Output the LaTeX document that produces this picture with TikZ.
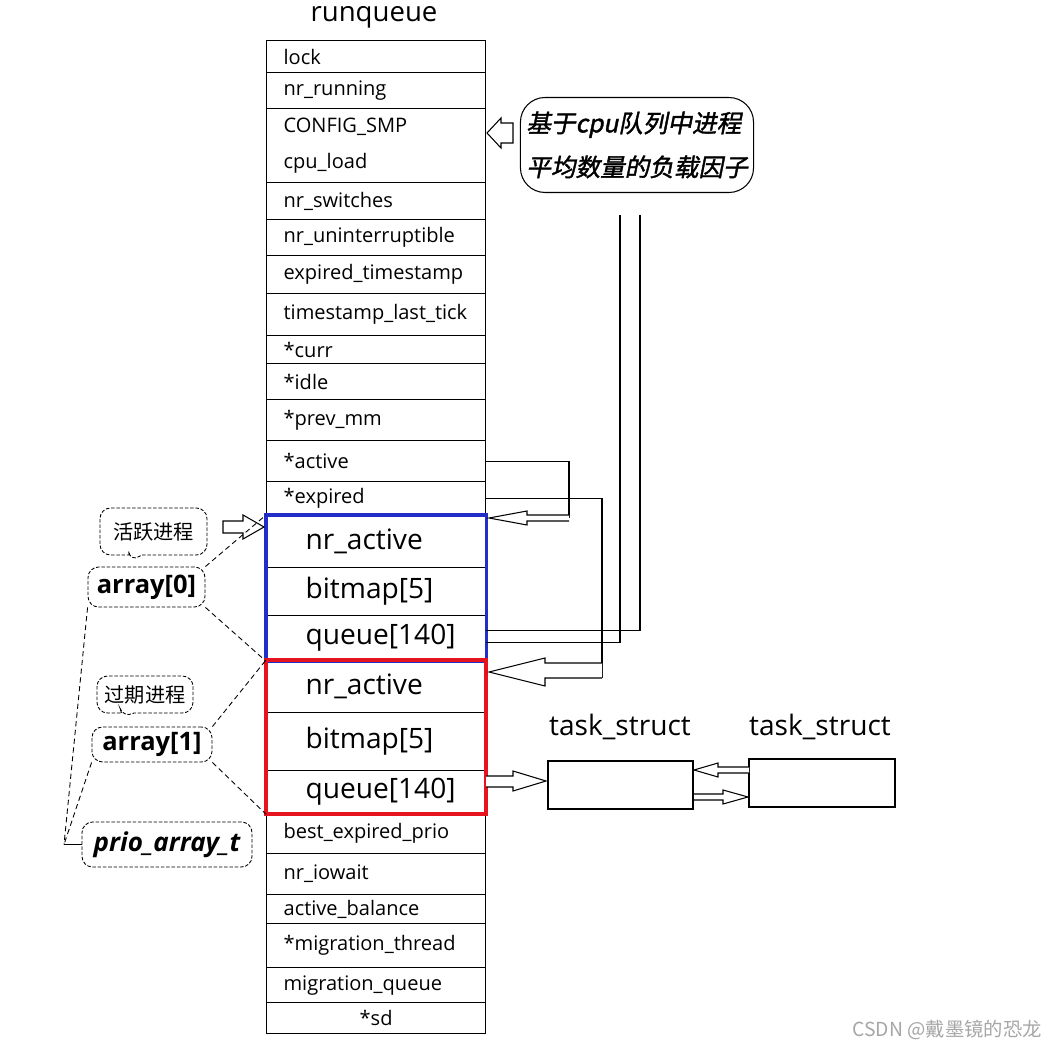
\documentclass[tikz,border=0pt]{standalone}
\usepackage{fontspec}
\setmainfont{Open Sans}
\newfontfamily\cjk{Noto Sans CJK SC}
\newfontfamily\cjkbi{Noto Sans CJK SC}[FakeBold=1.5,FakeSlant=0.2]
\usetikzlibrary{calc,shapes.callouts}

\definecolor{arrblue}{RGB}{35,45,200}
\definecolor{arrred}{RGB}{230,20,30}

\tikzset{
    field/.style={draw, line width=0.7pt, anchor=north west, minimum width=4.38cm,
        inner xsep=0.34cm, inner ysep=0pt, text width=3.7cm, align=left,
        font=\fontsize{11.4}{13}\selectfont},
    bigfield/.style={field, inner xsep=0.78cm, text width=2.82cm,
        font=\fontsize{16}{18}\selectfont},
    wire/.style={line width=0.6pt},
    hollow/.style={draw, fill=white, line width=0.6pt},
    tag/.style={draw, dash pattern=on 2pt off 1pt, rounded corners=6pt, inner sep=2pt, line width=0.5pt},
    link/.style={densely dashed, line width=0.5pt},
}

\begin{document}
\begin{tikzpicture}[x=0.02cm, y=-0.02cm]
    \useasboundingbox (0,0) rectangle (1054,1050);

    % runqueue fields
    \node[font=\fontsize{15.7}{18}\selectfont] (rqtitle) at (374,17) {runqueue};
    \node[field, minimum height=0.64cm] (lock) at (266,40) {lock};
    \node[field, minimum height=0.72cm] (nrrun) at (266,72) {nr\_running};
    \node[field, minimum height=1.48cm] (cpuload) at (266,108) {CONFIG\_SMP\\[7pt]cpu\_load};
    \node[field, minimum height=0.74cm] (nrsw) at (266,182) {nr\_switches};
    \node[field, minimum height=0.72cm] (nrunint) at (266,219) {nr\_uninterruptible};
    \node[field, minimum height=0.76cm] (exptime) at (266,255) {expired\_timestamp};
    \node[field, minimum height=0.84cm] (lasttick) at (266,293) {timestamp\_last\_tick};
    \node[field, minimum height=0.56cm] (curr) at (266,335) {*curr};
    \node[field, minimum height=0.72cm] (idle) at (266,363) {*idle};
    \node[field, minimum height=0.82cm] (prevmm) at (266,399) {*prev\_mm};
    \node[field, minimum height=0.82cm] (active) at (266,440) {*active};
    \node[field, minimum height=0.68cm] (expired) at (266,481) {*expired};

    % array[0]
    \node[bigfield, minimum height=1.04cm] (aNr) at (266,515) {nr\_active};
    \node[bigfield, minimum height=0.96cm] (aBit) at (266,567) {bitmap[5]};
    \node[bigfield, minimum height=0.90cm] (aQueue) at (266,615) {queue[140]};

    % array[1]
    \node[bigfield, minimum height=1.04cm] (eNr) at (266,660) {nr\_active};
    \node[bigfield, minimum height=1.16cm] (eBit) at (266,712) {bitmap[5]};
    \node[bigfield, minimum height=0.86cm] (eQueue) at (266,770) {queue[140]};

    \node[field, minimum height=0.80cm] (bestexp) at (266,813) {best\_expired\_prio};
    \node[field, minimum height=0.82cm] (iowait) at (266,853) {nr\_iowait};
    \node[field, minimum height=0.58cm] (actbal) at (266,894) {active\_balance};
    \node[field, minimum height=0.88cm] (migthr) at (266,923) {*migration\_thread};
    \node[field, minimum height=0.70cm] (migq) at (266,967) {migration\_queue};
    \node[field, minimum height=0.62cm, align=center] (sd) at (266,1002) {*sd};

    \draw[arrblue, line width=1.8pt] (aNr.north west) rectangle (aQueue.south east);
    \draw[arrred, line width=2pt] (eNr.north west) rectangle (eQueue.south east);

    % load note
    \node[draw, rounded corners=14pt, line width=0.6pt, minimum width=4.6cm, minimum height=1.9cm,
        align=left, font=\cjkbi\fontsize{14}{25}\selectfont] (loadnote) at (637,145)
        {基于cpu队列中进程\\平均数量的负载因子};
    \draw[hollow] (487,133) -- (501,118) -- (501,123) -- (513,123) -- (513,143) -- (501,143) -- (501,148) -- cycle;
    \coordinate (ld1) at (620,215);
    \coordinate (ld2) at (640,215);
    \draw[wire] (ld1) |- ($(aQueue.east)+(0,4)$);
    \draw[wire] (ld2) |- ($(aQueue.east)+(0,-8)$);

    % active and expired pointers
    \coordinate (actdrop) at (569,518);
    \draw[wire] (active.east) -| (actdrop);
    \draw[hollow] (569,515) -- (527,515) -- (527,511) -- (489,518) -- (527,525) -- (527,521) -- (569,521);
    \coordinate (expdrop) at (602,678);
    \draw[wire] (expired.east) -| (expdrop);
    \draw[hollow] (602,663) -- (545,663) -- (545,658) -- (489,672) -- (545,686) -- (545,678) -- (602,678);

    % left labels
    \node[tag, rectangle callout, callout absolute pointer={(130,562)}, minimum width=2.14cm,
        minimum height=0.94cm, font=\cjk\fontsize{11.5}{14}\selectfont] (actnote) at (153.5,531.5) {活跃进程};
    \node[tag, minimum width=2.34cm, minimum height=0.8cm,
        font=\bfseries\fontsize{14.5}{16}\selectfont] (arr0) at (146.5,587) {array[0]};
    \node[tag, rectangle callout, callout absolute pointer={(123,718)}, minimum width=1.92cm,
        minimum height=0.74cm, font=\cjk\fontsize{11.5}{14}\selectfont] (expnote) at (145,694.5) {过期进程};
    \node[tag, minimum width=2.4cm, minimum height=0.7cm,
        font=\bfseries\fontsize{14.5}{16}\selectfont] (arr1) at (152,744.5) {array[1]};
    \node[tag, minimum width=3.4cm, minimum height=0.9cm,
        font=\bfseries\itshape\fontsize{14.8}{16}\selectfont] (prio) at (167,844.5) {prio\_array\_t};
    \draw[hollow] (223,521) -- (243,521) -- (243,515) -- (264,527) -- (243,539) -- (243,533) -- (223,533) -- cycle;

    \draw[link] (arr0.north east) -- (aNr.north west);
    \draw[link] (arr0.south east) -- (aQueue.south west);
    \draw[link] (arr1.north east) -- (eNr.north west);
    \draw[link] (arr1.south east) -- (eQueue.south west);
    \coordinate (join) at (64,844.5);
    \draw[link] (arr0.south west) -- (join);
    \draw[link] (arr1.south west) -- (join);
    \draw[wire] (join) -- (prio.west);

    % task list
    \node[font=\fontsize{16}{18}\selectfont] (t1label) at (620,727) {task\_struct};
    \node[font=\fontsize{16}{18}\selectfont] (t2label) at (820,727) {task\_struct};
    \node[draw, line width=0.7pt, minimum width=2.9cm, minimum height=0.96cm] (task1) at (620.5,785) {};
    \node[draw, line width=0.7pt, minimum width=2.92cm, minimum height=0.96cm] (task2) at (822,783) {};
    \draw[hollow] (486,776) -- (513,776) -- (513,771) -- (546,781) -- (513,791) -- (513,787) -- (486,787);
    \draw[hollow] (749,767) -- (718,767) -- (718,763) -- (694,770) -- (718,777) -- (718,773) -- (749,773);
    \draw[hollow] (694,794) -- (723,794) -- (723,790) -- (748,797) -- (723,804) -- (723,800) -- (694,800);

    \node[anchor=east, text=gray!70, font=\cjk\fontsize{11}{13}\selectfont] (mark) at (1048,1030) {CSDN @戴墨镜的恐龙};
\end{tikzpicture}
\end{document}
